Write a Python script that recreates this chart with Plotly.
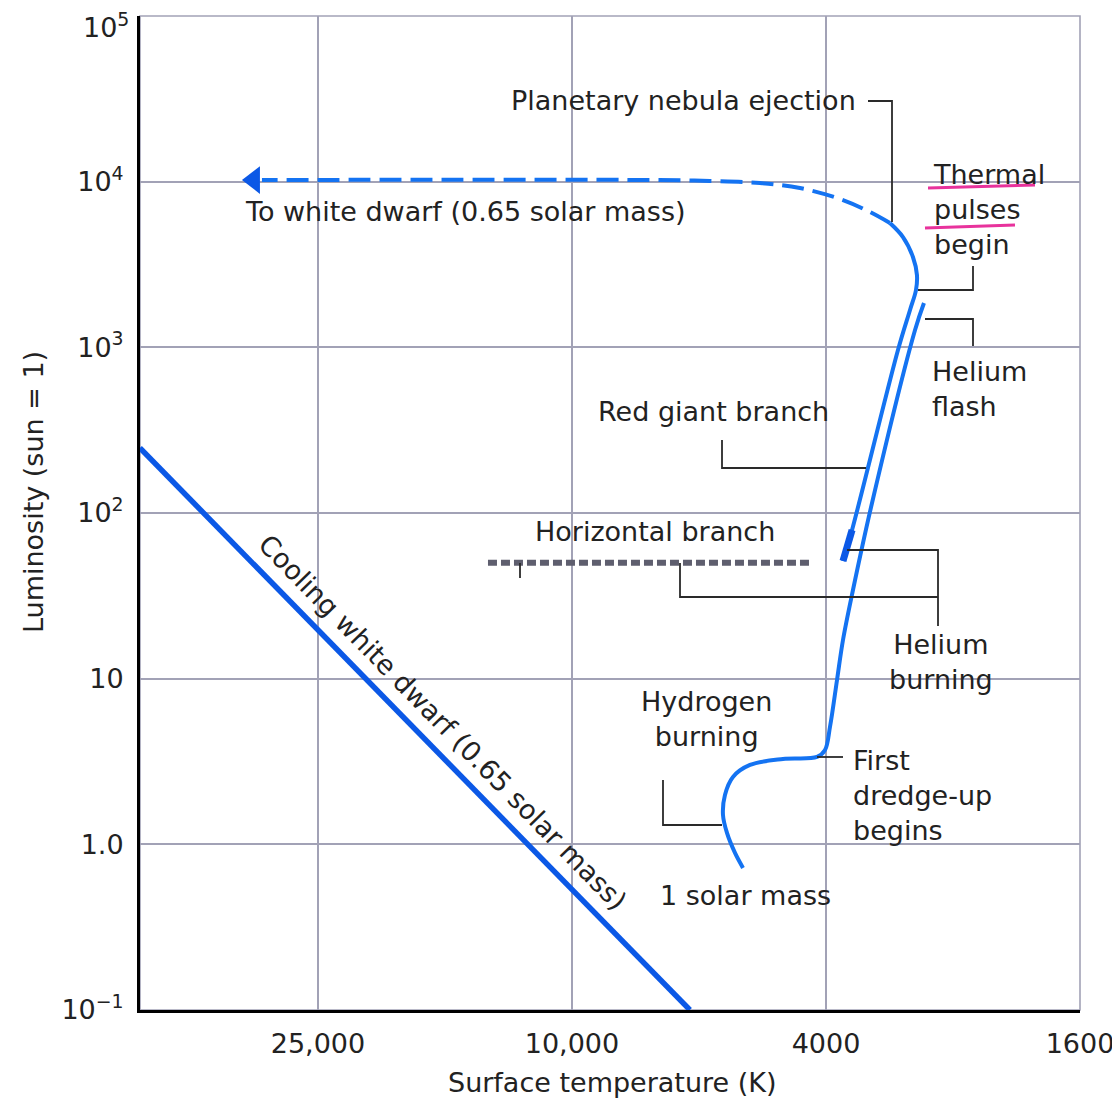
import plotly.graph_objects as go

# ---------------- data ----------------
# 1 solar mass: main sequence -> subgiant -> red giant branch up to the helium flash
track1_T = [5396, 5554, 5717, 5800, 5759, 5595, 5262, 4671, 4132, 4014, 3943, 3844, 3762, 3629, 3388, 2901, 2809]
track1_L = [0.720, 0.887, 1.171, 1.503, 1.986, 2.551, 3.013, 3.275, 3.367, 3.710, 5.108, 9.82, 17.12, 34.3, 114.9, 1272, 1852]

# horizontal branch -> asymptotic giant branch -> thermal pulses (solid)
track2_T = [3762, 3641, 3085, 2954, 2891, 2881, 2923, 3030, 3176]
track2_L = [51.3, 79.0, 963.7, 1680, 2219, 2733, 3510, 4634, 5630]

# planetary nebula ejection -> to white dwarf (dashed)
track3_T = [3176, 3413, 3762, 4394, 5076, 6079, 7548, 30600]
track3_L = [5630, 6560, 7752, 9158, 9817, 10093, 10235, 10235]

# arrow head at the end of the dashed track
arrow_T = [31500]
arrow_L = [10235]

# horizontal branch (dotted band)
hb_T = [13540, 4238]
hb_L = [50, 50]

# cooling white dwarf (0.65 solar mass)
wd_T = [47530, 6535]
wd_L = [247, 0.1]

# axis ticks
x_tickvals = [25000, 10000, 4000, 1600]
x_ticktext = ["25,000", "10,000", "4000", "1600"]
y_tickvals = [0.1, 1, 10, 100, 1000, 10000, 100000]
y_ticktext = ["10<sup>\u22121</sup>", "1.0", "10", "10<sup>2</sup>", "10<sup>3</sup>",
              "10<sup>4</sup>", ""]          # top label is drawn just below the frame edge
y_top_label = "10<sup>5</sup>"

# ---------------- style ----------------
FONT = "DejaVu Sans"
FS = 27
TXT = "#222222"
BLUE = "#1473f2"
BLUE_DEEP = "#0b58e6"
GRID = "#a2a2b6"
LEAD = "#2a2a2a"

# the page body has an 8px margin; the plot area should sit at page pixels
# x 140..1080, y 16..1010
BODY = 8
PLOT_L, PLOT_R, PLOT_T, PLOT_B = 140, 1080, 16, 1010
W, H = 1112, 1094
L_M = PLOT_L - BODY
T_M = PLOT_T - BODY
R_M = W - (PLOT_R - BODY)
B_M = H - (PLOT_B - BODY)
PW, PH = PLOT_R - PLOT_L, PLOT_B - PLOT_T


def pp(px, py):
    """page pixel position -> paper coordinates"""
    return (px - PLOT_L) / PW, (PLOT_B - py) / PH


fig = go.Figure()

fig.add_trace(go.Scatter(x=wd_T, y=wd_L, mode="lines",
                         line=dict(color=BLUE_DEEP, width=5.5), hoverinfo="skip"))
fig.add_trace(go.Scatter(x=hb_T, y=hb_L, mode="lines",
                         line=dict(color="#5e5e6e", width=6, dash="9px,4px"), hoverinfo="skip"))
fig.add_trace(go.Scatter(x=track1_T, y=track1_L, mode="lines", line_shape="spline",
                         line=dict(color=BLUE, width=4), hoverinfo="skip"))
fig.add_trace(go.Scatter(x=track2_T, y=track2_L, mode="lines", line_shape="spline",
                         line=dict(color=BLUE, width=4), hoverinfo="skip"))
fig.add_trace(go.Scatter(x=track2_T[:2], y=track2_L[:2], mode="lines",
                         line=dict(color=BLUE_DEEP, width=7), hoverinfo="skip"))
fig.add_trace(go.Scatter(x=track3_T, y=track3_L, mode="lines", line_shape="spline",
                         line=dict(color=BLUE, width=4, dash="22px,9px"), hoverinfo="skip"))
fig.add_trace(go.Scatter(x=arrow_T, y=arrow_L, mode="markers",
                         marker=dict(symbol="triangle-left", size=24, color=BLUE_DEEP),
                         hoverinfo="skip"))

# ---------------- leader lines (page-pixel polylines) ----------------
leaders = [
    [(868, 101), (892, 101), (892, 222)],
    [(973, 266), (973, 290), (918, 290)],
    [(925, 319), (973, 319), (973, 346)],
    [(722, 440), (722, 468), (866, 468)],
    [(847, 550), (938, 550), (938, 626)],
    [(680, 563), (680, 597), (938, 597)],
    [(520, 563), (520, 578)],
    [(663, 780), (663, 825), (722, 825)],
    [(817, 757), (843, 757)],
]
shapes = [dict(type="rect", xref="paper", yref="paper", x0=0, y0=0, x1=1, y1=1,
               line=dict(color=GRID, width=1.6), layer="below")]
for pts in leaders:
    path = ""
    for i, (px, py) in enumerate(pts):
        x, y = pp(px, py)
        path += ("M" if i == 0 else " L") + f" {x:.5f} {y:.5f}"
    shapes.append(dict(type="path", xref="paper", yref="paper", path=path,
                       line=dict(color=LEAD, width=1.8)))

# magenta hand-drawn underlines
for (a, b) in [((928, 188), (1035, 185)), ((925, 228), (1015, 225))]:
    x0, y0 = pp(*a)
    x1, y1 = pp(*b)
    shapes.append(dict(type="line", xref="paper", yref="paper", x0=x0, y0=y0, x1=x1, y1=y1,
                       line=dict(color="#e8329c", width=3)))

# ---------------- text labels ----------------
labels = [
    ("Planetary nebula ejection", 858, 100, "right", "left", 0),
    ("To white dwarf (0.65 solar mass)", 243, 212, "left", "left", 0),
    ("Thermal<br>pulses<br>begin", 931, 209, "left", "left", 0),
    ("Helium<br>flash", 930, 389, "left", "left", 0),
    ("Red giant branch", 596, 412, "left", "left", 0),
    ("Horizontal branch", 533, 531, "left", "left", 0),
    ("Helium<br>burning", 941, 662, "center", "center", 0),
    ("Hydrogen<br>burning", 706, 719, "center", "center", 0),
    ("First<br>dredge-up<br>begins", 851, 795, "left", "left", 0),
    ("1 solar mass", 658, 895, "left", "left", 0),
    ("Cooling white dwarf (0.65 solar mass)", 443, 722, "center", "center", 45.6),
    ("Surface temperature (K)", 612, 1082, "center", "center", 0),
    ("Luminosity (sun = 1)", 33, 492, "center", "center", -90),
    (y_top_label, 131, 25, "right", "right", 0),
]
annotations = []
for text, px, py, xa, al, ang in labels:
    x, y = pp(px, py)
    annotations.append(dict(text=text, x=x, y=y, xref="paper", yref="paper",
                            xanchor=xa, yanchor="middle", align=al, textangle=ang,
                            showarrow=False, font=dict(family=FONT, size=FS, color=TXT)))

axis_common = dict(
    type="log", ticks="", ticklabelstandoff=8, ticklabeloverflow="allow",
    automargin=False,
    showgrid=True, gridcolor=GRID, gridwidth=1.6,
    showline=True, linecolor="black", linewidth=3,
    zeroline=False, tickfont=dict(family=FONT, size=FS, color=TXT),
)

fig.update_layout(
    width=W, height=H,
    margin=dict(l=L_M, r=R_M, t=T_M, b=B_M, autoexpand=False),
    paper_bgcolor="white", plot_bgcolor="white",
    showlegend=False,
    font=dict(family=FONT, size=FS, color=TXT),
    shapes=shapes, annotations=annotations,
    xaxis=dict(range=[4.6768, 3.2041], tickvals=x_tickvals, ticktext=x_ticktext, **axis_common),
    yaxis=dict(range=[-1.0002, 5.0002], tickvals=y_tickvals, ticktext=y_ticktext, **axis_common),
)

fig.write_html("out.html")
